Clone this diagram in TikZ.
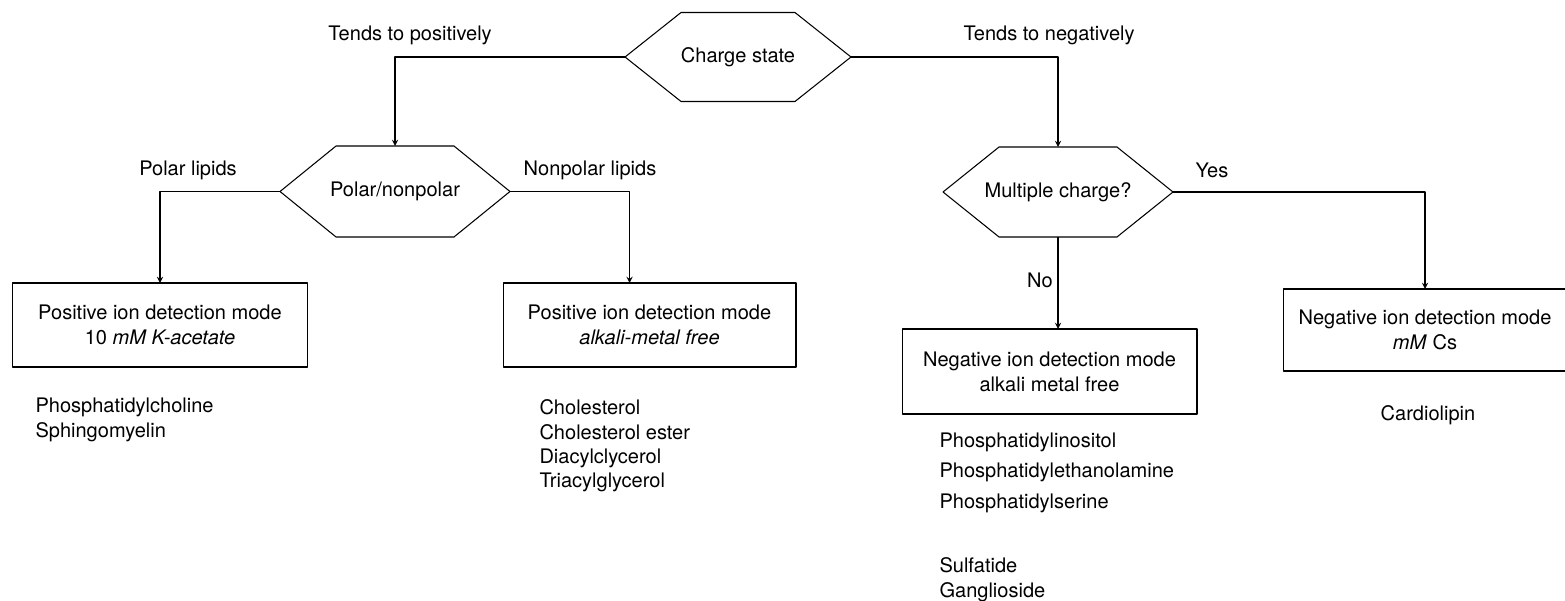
\documentclass[tikz,border=0pt]{standalone}
\usepackage{fontspec}
\setmainfont{TeX Gyre Heros}
\usetikzlibrary{calc}
\begin{document}
\begin{tikzpicture}[x=0.02cm,y=-0.02cm,>=stealth,line join=round,line width=.6pt,
    font=\fontsize{11.4}{14.2}\selectfont,
    hexa/.style={minimum width=4.6cm,minimum height=1.8cm,inner sep=0pt,outer sep=0pt},
    mode/.style={draw,align=center,inner sep=0pt,outer sep=0pt,minimum height=1.68cm},
    item/.style={anchor=west,inner sep=0pt}]
	\path[use as bounding box,clip] (0,0) rectangle (1565,601);
	% decisions
	\node[hexa,minimum width=4.52cm,minimum height=1.78cm] (cs) at (738,57) {Charge state};
	\node[hexa,minimum height=1.82cm] (pn) at (395,191.5) {Polar/nonpolar};
	\node[hexa] (mc) at (1058,192) {Multiple charge?};
	\foreach \h in {cs,pn,mc}{
		\draw ($(\h.north west)+(56,0)$)--($(\h.north east)+(-56,0)$)--(\h.east)
			--($(\h.south east)+(-56,0)$)--($(\h.south west)+(56,0)$)--(\h.west)--cycle;
		}
	% detection modes
	\node[mode,minimum width=5.9cm] (pk) at (160,325) {Positive ion detection mode\\10 \textit{mM K-acetate}};
	\node[mode,minimum width=5.86cm] (pf) at (649.5,325) {Positive ion detection mode\\\textit{alkali-metal free}};
	\node[mode,minimum width=5.9cm,minimum height=1.7cm] (nf) at (1049.5,371.5) {Negative ion detection mode\\alkali metal free};
	\node[mode,minimum width=5.68cm,minimum height=1.64cm] (nc) at (1425,330) {Negative ion detection mode\\\textit{mM} Cs};
	% connectors
	\draw[->] (cs.west) -| (pn.north);
	\draw[->] (cs.east) -| (mc.north);
	\draw[->] (pn.west) -| (pk.north);
	\draw[->] (pn.east) -| ($(pf.north)+(-20,0)$);
	\draw[->] (mc.south) -- (mc.south |- nf.north);
	\draw[->] (mc.east) -| (nc.north);
	% branch labels
	\node (tpos) at (410,35) {Tends to positively};
	\node (tneg) at (1049,35) {Tends to negatively};
	\node (pol) at (188,170) {Polar lipids};
	\node (npol) at (590,170) {Nonpolar lipids};
	\node (yes) at (1212,170) {Yes};
	\node (no) at (1040,280) {No};
	% lipids
	\foreach \x/\y/\n/\t in {35/407/pc/Phosphatidylcholine,35/432/sm/Sphingomyelin,
		539/407/ch/Cholesterol,539/432/ce/Cholesterol ester,539/458/dg/Diacylclycerol,539/482/tg/Triacylglycerol,
		939/442/pi/Phosphatidylinositol,939/472/pe/Phosphatidylethanolamine,939/503/ps/Phosphatidylserine,
		939/565/sf/Sulfatide,939/592/gg/Ganglioside}{
		\node[item] (\n) at (\x,\y) {\t};
		}
	\node (cl) at (1428,415) {Cardiolipin};
\end{tikzpicture}
\end{document}
